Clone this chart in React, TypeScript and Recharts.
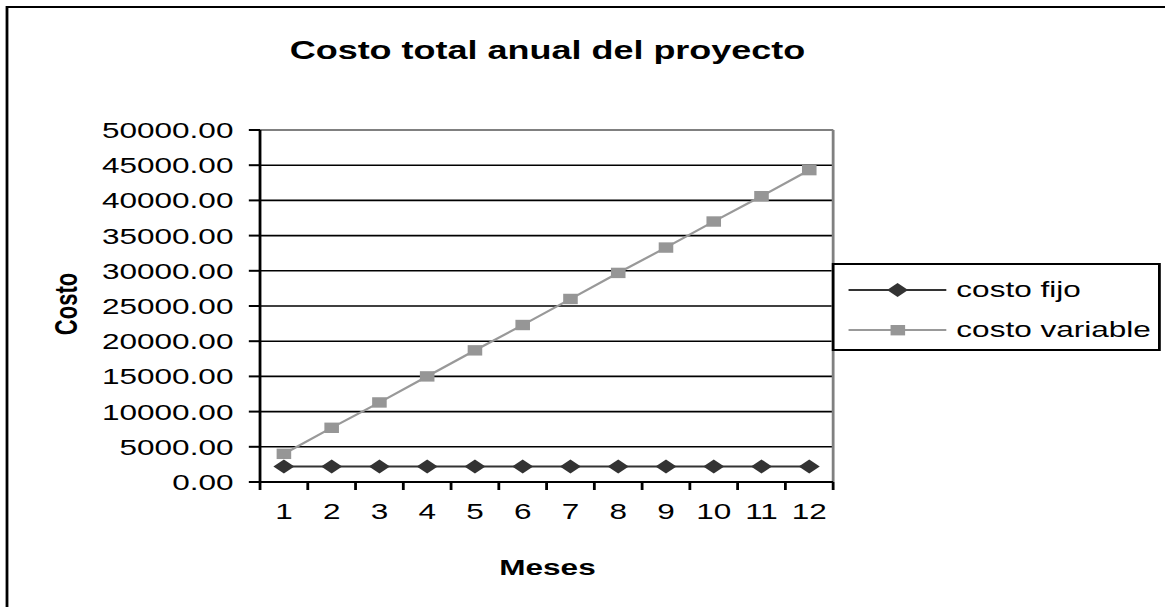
import React from "react";
import {
  LineChart,
  Line,
  XAxis,
  YAxis,
  CartesianGrid,
  Legend,
  ReferenceLine,
} from "recharts";

// months 1..12
const months = [1, 2, 3, 4, 5, 6, 7, 8, 9, 10, 11, 12];
const costoFijo = [2200, 2200, 2200, 2200, 2200, 2200, 2200, 2200, 2200, 2200, 2200, 2200];
const costoVariable = [4000, 7700, 11300, 15000, 18700, 22300, 26000, 29700, 33300, 37000, 40600, 44300];
const yTicks = [0, 5000, 10000, 15000, 20000, 25000, 30000, 35000, 40000, 45000, 50000];

const data = months.map((m, i) => ({
  mes: m,
  fijo: costoFijo[i],
  variable: costoVariable[i],
}));

// ticks at every month plus the band edges in between
const xTicks = months.flatMap((m) => [m - 0.5, m]).concat(months[months.length - 1] + 0.5);

// the chart is laid out narrow and then stretched sideways
const W = 832;
const H = 607;
const STRETCH = 1165 / W;
const FONT = '"Liberation Sans", Arial, sans-serif';

const DARK = "#333333";
const GRAY = "#999999";

const Diamond = (p: any) => {
  const { cx, cy, index } = p;
  if (cx == null || cy == null) return <g key={index} />;
  const rx = 7.5;
  const ry = 7;
  return (
    <polygon
      key={index}
      points={`${cx - rx},${cy} ${cx},${cy - ry} ${cx + rx},${cy} ${cx},${cy + ry}`}
      fill={DARK}
    />
  );
};

const Square = (p: any) => {
  const { cx, cy, index } = p;
  if (cx == null || cy == null) return <g key={index} />;
  const s = 5.2;
  return <rect key={index} x={cx - s} y={cy - s} width={s * 2} height={s * 2} fill="#969696" />;
};

const XTick = (p: any) => {
  const { x, y, payload } = p;
  const v = payload.value;
  if (!Number.isInteger(v)) {
    return <line x1={x} x2={x} y1={y} y2={y + 8} stroke="#000" strokeWidth={2} />;
  }
  return (
    <text x={x} y={y + 29} textAnchor="middle" dominantBaseline="central" fontSize={22.5} fill="#000">
      {v}
    </text>
  );
};

const LegendBox = () => (
  <div
    style={{
      width: 235,
      height: 88,
      boxSizing: "border-box",
      border: "2px solid #000",
      background: "#fff",
      position: "relative",
      fontSize: 22.5,
      fontFamily: FONT,
    }}
  >
    <svg width={80} height={88} style={{ position: "absolute", left: 0, top: -2 }}>
      <line x1={10} x2={80} y1={27} y2={27} stroke={DARK} strokeWidth={2} />
      <polygon points="37.5,27 45,20 52.5,27 45,34" fill={DARK} />
      <line x1={10} x2={80} y1={67} y2={67} stroke={GRAY} strokeWidth={2} />
      <rect x={40} y={62} width={10.4} height={10.4} fill="#969696" />
    </svg>
    <div style={{ position: "absolute", left: 87, top: 11, lineHeight: "28px" }}>costo fijo</div>
    <div style={{ position: "absolute", left: 87, top: 51, lineHeight: "28px" }}>costo variable</div>
  </div>
);

export default function App() {
  return (
    <div
      style={{
        position: "absolute",
        left: 0,
        top: 0,
        width: W,
        height: H,
        overflow: "hidden",
        background: "#fff",
        transform: `scaleX(${STRETCH})`,
        transformOrigin: "0 0",
        fontFamily: FONT,
      }}
    >
      <div
        style={{
          position: "absolute",
          left: 3.5,
          top: 6,
          width: 2000,
          height: 2000,
          border: "2px solid #000",
        }}
      />
      <div
        style={{
          position: "absolute",
          left: 391,
          top: 50,
          transform: "translate(-50%, -50%)",
          fontWeight: "bold",
          fontSize: 25.7,
          whiteSpace: "nowrap",
        }}
      >
        Costo total anual del proyecto
      </div>
      <div
        style={{
          position: "absolute",
          left: 391,
          top: 568,
          transform: "translate(-50%, -50%)",
          fontWeight: "bold",
          fontSize: 22.5,
          whiteSpace: "nowrap",
        }}
      >
        Meses
      </div>
      <div
        style={{
          position: "absolute",
          left: 48,
          top: 304,
          transform: "translate(-50%, -50%) rotate(-90deg)",
          fontWeight: "bold",
          fontSize: 22,
          whiteSpace: "nowrap",
        }}
      >
        Costo
      </div>
      <div style={{ position: "absolute", left: 0, top: 0 }}>
        <LineChart
          width={W}
          height={H}
          data={data}
          margin={{ top: 130, right: 237, left: 0, bottom: 0 }}
        >
          <CartesianGrid horizontal vertical={false} stroke="#000" strokeWidth={1.6} />
          <XAxis
            dataKey="mes"
            type="number"
            domain={[0.5, 12.5]}
            ticks={xTicks}
            interval={0}
            allowDecimals
            tickLine={false}
            tickSize={0}
            tickMargin={0}
            tick={<XTick />}
            height={125}
            axisLine={{ stroke: "#000", strokeWidth: 2 }}
          />
          <YAxis
            type="number"
            domain={[0, 50000]}
            ticks={yTicks}
            interval={0}
            width={185.7}
            tickSize={8}
            tickMargin={11}
            tickLine={{ stroke: "#000", strokeWidth: 2 }}
            axisLine={{ stroke: "#000", strokeWidth: 2 }}
            tick={{ fontSize: 22.5, fill: "#000" }}
            tickFormatter={(v: number) => v.toFixed(2)}
          />
          <ReferenceLine y={50000} stroke="#808080" strokeWidth={2} />
          <ReferenceLine x={12.5} stroke="#808080" strokeWidth={2} />
          <Line
            dataKey="fijo"
            name="costo fijo"
            stroke={DARK}
            strokeWidth={2}
            dot={Diamond}
            activeDot={false}
            isAnimationActive={false}
          />
          <Line
            dataKey="variable"
            name="costo variable"
            stroke={GRAY}
            strokeWidth={2}
            dot={Square}
            activeDot={false}
            isAnimationActive={false}
          />
          <Legend
            layout="horizontal"
            align="center"
            verticalAlign="middle"
            content={<LegendBox />}
            wrapperStyle={{ left: 594, top: 263, width: 235, height: 88 }}
          />
        </LineChart>
      </div>
    </div>
  );
}
